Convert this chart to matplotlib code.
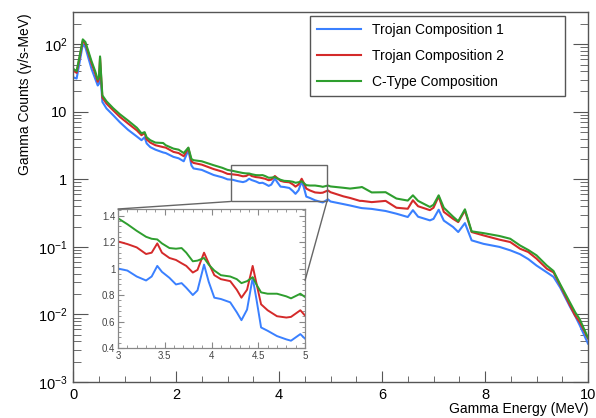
import matplotlib

matplotlib.use("Agg")
import matplotlib.pyplot as plt
from matplotlib.patches import Rectangle, ConnectionPatch
from matplotlib.ticker import FixedLocator, FuncFormatter, LogLocator, MultipleLocator, NullFormatter

# energy grid (MeV) shared by the three spectra
energy = [
    0.0, 0.07, 0.13, 0.19, 0.24, 0.30, 0.36, 0.43, 0.48, 0.505, 0.525, 0.55, 0.57,
    0.65, 0.78, 0.91, 1.07, 1.24, 1.33, 1.39, 1.43, 1.5, 1.6, 1.75, 1.8, 1.95,
    2.05, 2.15, 2.24, 2.3, 2.34, 2.5, 2.73, 2.9,
    3.0, 3.1, 3.2, 3.3, 3.36, 3.42, 3.47, 3.55, 3.62, 3.68, 3.73, 3.8, 3.85,
    3.92, 3.97, 4.03, 4.1, 4.2, 4.27, 4.32, 4.38, 4.44, 4.48, 4.53, 4.6, 4.7,
    4.8, 4.85, 4.95, 5.0,
    5.25, 5.38, 5.57, 5.61, 5.8, 6.07, 6.28, 6.5, 6.6, 6.7, 6.93, 7.0, 7.1,
    7.2, 7.38, 7.48, 7.61, 7.74, 7.97, 8.28, 8.49, 8.68, 8.84, 9.0, 9.2, 9.33,
    9.46, 9.65, 9.75, 9.84, 10.0,
]

trojan1 = [
    32.5, 31, 55, 100, 90, 62, 43, 31, 24.5, 26, 45, 24, 14,
    11.2, 8.9, 7.0, 5.4, 4.3, 3.8, 4.2, 3.4, 3.0, 2.75, 2.5, 2.45, 2.15,
    2.05, 1.85, 2.7, 1.6, 1.45, 1.38, 1.16, 1.07,
    1.0, 0.985, 0.94, 0.91, 0.94, 1.02, 0.975, 0.93, 0.88, 0.89, 0.855, 0.80, 0.835,
    1.03, 0.9, 0.78, 0.77, 0.745, 0.67, 0.61, 0.69, 0.93, 0.77, 0.555, 0.53, 0.49,
    0.465, 0.455, 0.505, 0.47,
    0.43, 0.41, 0.38, 0.375, 0.365, 0.34, 0.31, 0.277, 0.35, 0.28, 0.247, 0.26, 0.355,
    0.245, 0.197, 0.166, 0.225, 0.125, 0.111, 0.1, 0.089, 0.078, 0.066, 0.053, 0.042, 0.036,
    0.025, 0.013, 0.0095, 0.0069, 0.0037,
]

trojan2 = [
    41, 37.7, 64, 112, 102, 73, 52, 37, 27.8, 31, 63.5, 29, 16.2,
    13.2, 10.5, 8.4, 6.7, 5.3, 4.5, 4.85, 3.9, 3.5, 3.2, 3.0, 2.95, 2.55,
    2.45, 2.2, 2.9, 1.85, 1.75, 1.65, 1.42, 1.3,
    1.205, 1.185, 1.16, 1.11, 1.12, 1.19, 1.12, 1.08, 1.065, 1.04, 1.02, 0.97, 0.99,
    1.12, 1.04, 0.95, 0.92, 0.905, 0.84, 0.78, 0.84, 1.02, 0.89, 0.73, 0.685, 0.64,
    0.63, 0.635, 0.685, 0.645,
    0.56, 0.53, 0.48, 0.48, 0.46, 0.48, 0.38, 0.367, 0.49, 0.40, 0.35, 0.38, 0.56,
    0.33, 0.26, 0.233, 0.345, 0.166, 0.148, 0.128, 0.118, 0.094, 0.084, 0.067, 0.0475, 0.042,
    0.027, 0.0136, 0.0096, 0.0077, 0.0044,
]

ctype = [
    43.5, 40, 68, 118, 108, 78, 56, 40, 30, 33, 66, 31, 17.5,
    14.3, 11.3, 9.2, 7.4, 5.8, 4.8, 5.0, 4.2, 3.8, 3.5, 3.45, 3.2, 2.85,
    2.75, 2.45, 2.95, 2.0, 1.92, 1.85, 1.62, 1.48,
    1.38, 1.335, 1.285, 1.24, 1.225, 1.22, 1.19, 1.155, 1.15, 1.155, 1.12, 1.055, 1.06,
    1.08, 1.03, 0.985, 0.95, 0.94, 0.92, 0.89, 0.905, 0.935, 0.88, 0.82, 0.81, 0.81,
    0.79, 0.775, 0.81, 0.785,
    0.75, 0.73, 0.76, 0.77, 0.64, 0.645, 0.52, 0.485, 0.58, 0.48, 0.39, 0.42, 0.58,
    0.38, 0.28, 0.24, 0.36, 0.17, 0.16, 0.145, 0.132, 0.105, 0.09, 0.075, 0.053, 0.044,
    0.028, 0.015, 0.0108, 0.0085, 0.0045,
]

labels = ["Trojan Composition 1", "Trojan Composition 2", "C-Type Composition"]
colors = ["#3a80ff", "#d42a2a", "#2e9e2e"]
decade_labels = {1e-3: "$10^{-3}$", 1e-2: "$10^{-2}$", 1e-1: "$10^{-1}$",
                 1.0: "1", 10.0: "10", 100.0: "$10^{2}$"}

plt.rcParams["font.family"] = ["Liberation Sans", "DejaVu Sans"]
plt.rcParams["mathtext.fontset"] = "custom"
plt.rcParams["mathtext.rm"] = "Liberation Sans"
plt.rcParams["mathtext.default"] = "regular"

frame = "#555555"

fig = plt.figure(figsize=(5.96, 4.18), dpi=100)
ax = fig.add_axes([0.1225, 0.0861, 0.8641, 0.8852])

for ys, lab, col in zip([trojan1, trojan2, ctype], labels, colors):
    ax.plot(energy, ys, color=col, linewidth=1.5, label=lab)

ax.set_yscale("log")
ax.set_xlim(0, 10)
ax.set_ylim(1e-3, 300)

ax.yaxis.set_major_locator(FixedLocator(list(decade_labels)))
ax.yaxis.set_major_formatter(FuncFormatter(lambda v, p: decade_labels.get(v, "")))
ax.yaxis.set_minor_locator(LogLocator(base=10, subs=range(2, 10), numticks=20))
ax.yaxis.set_minor_formatter(NullFormatter())
ax.xaxis.set_major_locator(MultipleLocator(2))
ax.xaxis.set_minor_locator(MultipleLocator(0.5))

ax.tick_params(which="both", direction="in", left=True, right=True, bottom=True, top=False,
               color=frame, labelsize=10.5)
ax.tick_params(axis="y", which="major", length=11, pad=4)
ax.tick_params(axis="y", which="minor", length=6)
ax.tick_params(axis="x", which="major", length=8, pad=4)
ax.tick_params(axis="x", which="minor", length=4)
for s in ax.spines.values():
    s.set_color(frame)
    s.set_linewidth(1.0)

ax.set_ylabel("Gamma Counts (\u03b3/s-MeV)", fontsize=10, loc="top")
ax.yaxis.set_label_coords(-0.08, 0.995)
ax.set_xlabel("Gamma Energy (MeV)", fontsize=10, loc="right")
ax.xaxis.set_label_coords(1.0, -0.055)

leg = ax.legend(loc="upper left", bbox_to_anchor=(0.46, 0.989, 0.495, 0.0), mode="expand",
                borderaxespad=0, fancybox=False, edgecolor=frame, fontsize=10,
                handlelength=3.2, handletextpad=0.75, labelspacing=0.85, borderpad=0.5)
leg.get_frame().set_linewidth(1.0)
leg.get_frame().set_alpha(1)

# zoom box on the main axes
box_x0, box_x1, box_y0, box_y1 = 3.06, 4.93, 0.47, 1.61
ax.add_patch(Rectangle((box_x0, box_y0), box_x1 - box_x0, box_y1 - box_y0,
                       fill=False, edgecolor="#666666", linewidth=1.0, zorder=4))

# inset
ins = fig.add_axes([0.198, 0.1675, 0.3138, 0.3325])
for ys, col in zip([trojan1, trojan2, ctype], colors):
    ins.plot(energy, ys, color=col, linewidth=1.4)
ins.set_xlim(3, 5)
ins.set_ylim(0.4, 1.45)
ins.xaxis.set_major_locator(MultipleLocator(0.5))
ins.xaxis.set_minor_locator(MultipleLocator(0.1))
ins.yaxis.set_major_locator(MultipleLocator(0.2))
ins.yaxis.set_minor_locator(MultipleLocator(0.04))
ins.xaxis.set_major_formatter(FuncFormatter(lambda v, p: f"{v:g}"))
ins.yaxis.set_major_formatter(FuncFormatter(lambda v, p: f"{v:g}"))
ins.tick_params(which="both", direction="in", left=True, right=True, top=True, bottom=True,
                color="#888888", labelsize=7, labelcolor="#444444", pad=2)
ins.tick_params(which="major", length=4)
ins.tick_params(which="minor", length=2)
for s in ins.spines.values():
    s.set_color("#888888")
    s.set_linewidth(0.9)

for xa, ya, xb, yb in [(box_x0, box_y0, 3.0, 1.45), (box_x1, box_y0, 5.0, 0.91)]:
    con = ConnectionPatch(xyA=(xa, ya), coordsA=ax.transData,
                          xyB=(xb, yb), coordsB=ins.transData,
                          color="#666666", linewidth=1.0)
    fig.add_artist(con)

fig.savefig("out.png", dpi=100)
plt.close(fig)
